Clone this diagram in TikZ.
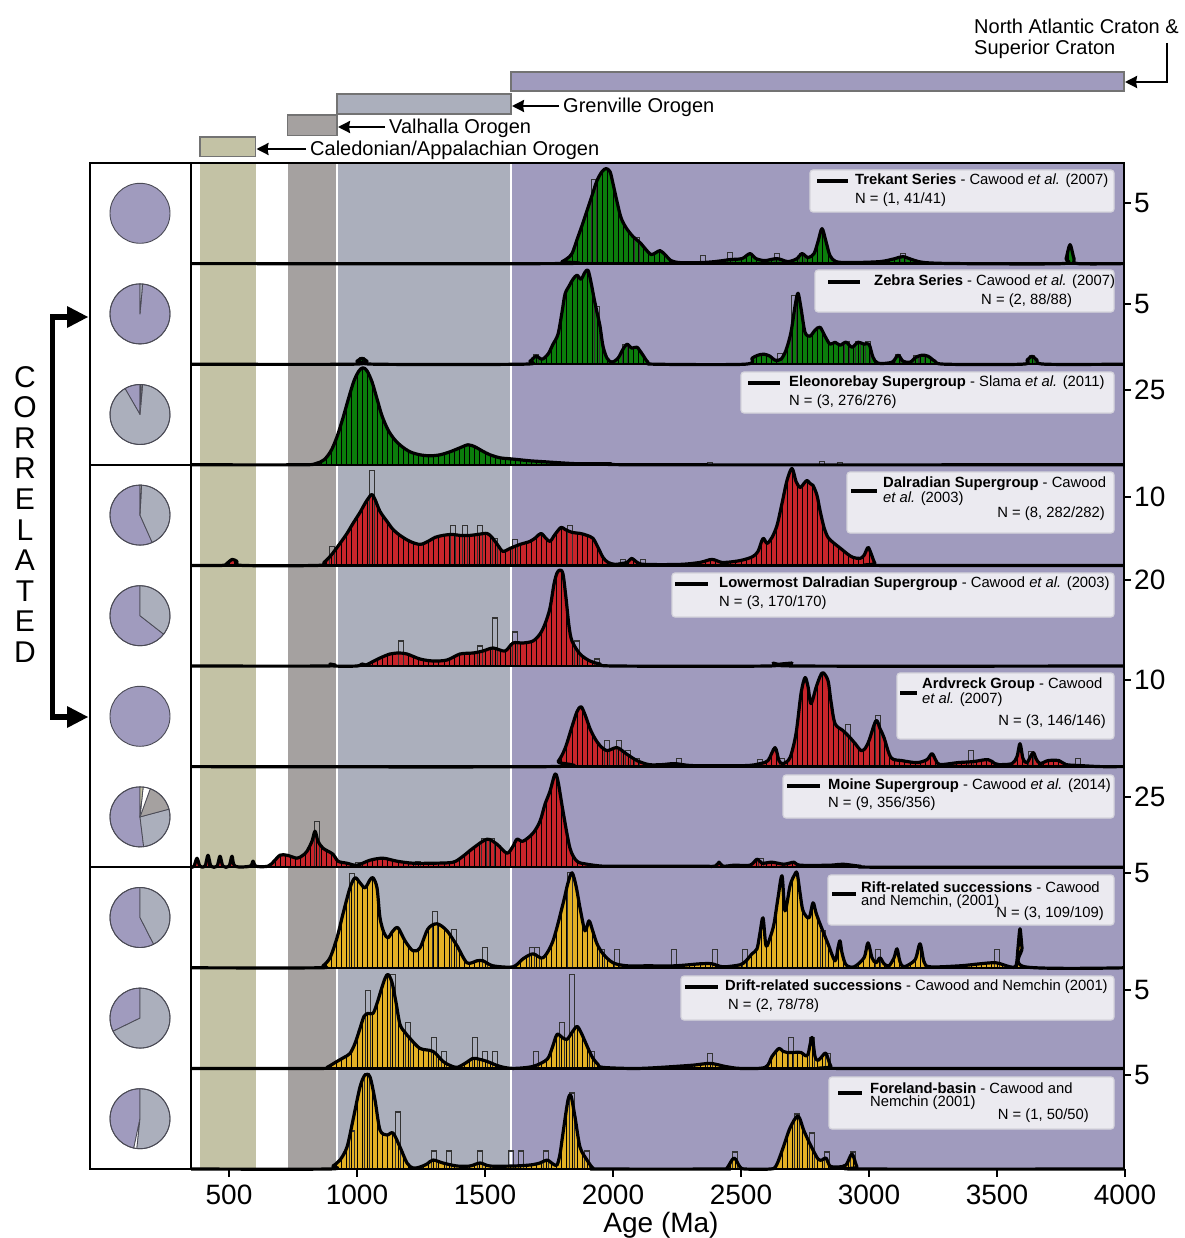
\documentclass[tikz,border=0pt]{standalone}
\usepackage{fontspec}
\setmainfont{Liberation Sans}
\usetikzlibrary{arrows.meta}

\definecolor{lav}{HTML}{A09BBE}
\definecolor{bgr}{HTML}{ABAFBC}
\definecolor{gry}{HTML}{A5A1A0}
\definecolor{kha}{HTML}{C3C2A5}
\definecolor{legf}{HTML}{EBEAF0}
\definecolor{legd}{HTML}{D5D4DC}
\definecolor{kgreen}{HTML}{0B7D0B}
\definecolor{kred}{HTML}{C8252B}
\definecolor{kyel}{HTML}{E3B125}
\definecolor{pied}{HTML}{4A4A55}

\newcommand\setfs[1]{\fontsize{#1}{#1}\selectfont}

\tikzset{
  kdecurve/.style={line width=3.2pt, line join=round, line cap=round},
  barline/.style={line width=0.9pt, draw=black},
  boxline/.style={line width=1.3pt, draw=black!80},
  frameline/.style={line width=2.4pt, line cap=rect},
  legbox/.style={fill=legf, draw=legd, line width=1.2pt, rounded corners=3pt},
  legline/.style={line width=3.4pt},
  legtxt/.style={anchor=west, inner sep=0pt, font=\setfs{14.8}},
  legtxtr/.style={anchor=east, inner sep=0pt, font=\setfs{14.8}},
  axlab/.style={inner sep=0pt, font=\setfs{28}},
  corr/.style={inner sep=0pt, font=\setfs{30}},
  olab/.style={anchor=west, inner sep=0pt, font=\setfs{20}},
  topbar/.style={draw=black!55, line width=1.2pt},
  oarrow/.style={line width=2.2pt, -{Stealth[length=12pt,width=12pt,inset=1pt]}},
  tickmark/.style={line width=1.6pt},
  piewedge/.style={draw=pied, line width=0.8pt, line join=round},
}

\newcommand\kdeplot[4]{%
  \begin{scope}[shift={(0,#1)}, yscale=-1]
    \begin{scope}
      \clip (191,-2) rectangle (1124,100);
      \fill[#2] plot[smooth,tension=0.5] coordinates {#3} -- cycle;
      \begin{scope}
        \clip plot[smooth,tension=0.5] coordinates {#3} -- cycle;
        \foreach \k in {18,...,200} \draw[barline] ({101+5.12*\k},0) -- ++(0,100);
      \end{scope}
      \foreach \bxx/\bhh in {#4} \draw[boxline] ({\bxx-2.56},0) rectangle ({\bxx+2.56},\bhh);
      \draw[kdecurve] plot[smooth,tension=0.5] coordinates {#3};
    \end{scope}
  \end{scope}}

\newcommand\piechart[2]{%
  \begin{scope}[shift={(140,#1)}, yscale=-1]
    \foreach \pa/\pb/\pc in {#2}
      \filldraw[piewedge, fill=\pc] (0,0) -- (\pa:30) arc[start angle=\pa, end angle=\pb, radius=30] -- cycle;
    \draw[pied, line width=0.9pt] (0,0) circle[radius=30];
  \end{scope}}
\newcommand\piefull[1]{%
  \filldraw[fill=lav, draw=pied, line width=0.9pt] (140,#1) circle[radius=30];}

\begin{document}
\begin{tikzpicture}[x=1pt,y=-1pt]
\useasboundingbox (0,0) rectangle (1184,1238);

% ---------- background age bands ----------
\fill[kha] (200,163) rectangle (255.5,1169);
\fill[gry] (287.5,163) rectangle (337,1169);
\fill[bgr] (337,163) rectangle (511,1169);
\fill[lav] (511,163) rectangle (1124,1169);
\draw[white, line width=1.2pt] (337,163) -- (337,1169) (511,163) -- (511,1169);

% ---------- KDE panels ----------
% 1 Trekant
\kdeplot{263.6}{kgreen}{(191,0) (555,0) (562,2) (567,5) (572,10) (577,24) (582,38) (587,53) (592,68) (597,83) (602,92) (606,95) (610,92) (613,80) (617,62) (621,46) (626,36) (633,27) (640,21) (646,14) (651,9) (656,11) (660,13) (665,9) (671,3) (680,1) (700,1) (715,2) (730,4) (742,5) (750,10) (756,5) (765,3) (777,5) (788,2) (797,5) (802,10) (808,6) (814,10) (818,22) (822,35) (826,22) (830,8) (836,2) (850,1) (880,2) (895,5) (903,7) (912,4) (925,1) (960,0) (1062,0) (1066,5) (1070,19) (1074,5) (1078,0) (1124,0)}
{594/84, 637/26, 703/8, 730/11, 777/10, 802/10, 903/10}
% 2 Zebra
\kdeplot{364.2}{kgreen}{(191,0) (352,0) (357,3) (362,6) (367,3) (375,0) (522,0) (530,3) (536,8) (542,5) (548,10) (553,20) (558,30) (562,52) (565,70) (569,78) (573,85) (577,89) (581,85) (585,92) (588,94) (591,82) (594,66) (597,52) (600,38) (603,18) (607,6) (612,2) (618,6) (623,15) (627,20) (632,16) (637,17) (643,9) (648,2) (655,0) (745,0) (752,6) (758,9) (764,10) (770,8) (775,4) (781,5) (786,14) (791,32) (795,58) (798,71) (801,56) (805,32) (810,28) (815,34) (820,37) (825,28) (830,20) (835,22) (840,19) (846,22) (852,17) (858,22) (864,20) (869,20) (873,7) (878,1) (892,2) (898,9) (903,3) (910,2) (916,7) (922,9) (928,8) (935,3) (945,0) (1022,0) (1027,4) (1032,8) (1037,4) (1045,0) (1124,0)}
{362/7, 536/10, 597/58, 625/20, 780/11, 794/69, 847/23, 858/23, 868/23, 898/10, 916/9, 922/9, 1032/9}
% 3 Eleonorebay
\kdeplot{464.8}{kgreen}{(191,0) (300,0) (315,1) (324,5) (331,14) (337,28) (343,47) (349,68) (354,84) (359,94) (363,97) (367,94) (372,83) (377,66) (382,49) (388,35) (394,26) (401,19) (410,13) (420,10) (430,9) (440,10) (450,13) (460,17) (468,20) (475,18) (482,14) (490,10) (500,7) (510,6) (520,5) (530,4) (545,3) (560,2) (580,1) (610,1) (650,0) (1124,0)}
{710/2, 822/3, 840/2}
% 4 Dalradian
\kdeplot{565.4}{kred}{(191,0) (222,0) (227,2) (232,6) (237,4) (242,0) (318,0) (324,3) (331,10) (340,22) (347,32) (353,42) (360,53) (365,62) (369,68) (372,71) (375,66) (380,54) (387,44) (393,36) (400,30) (410,24) (420,21) (428,24) (435,28) (443,30) (452,31) (460,30) (470,30) (478,31) (487,32) (492,28) (498,20) (503,14) (510,17) (520,21) (530,24) (536,28) (541,32) (546,27) (550,24) (555,31) (561,38) (565,36) (572,33) (580,32) (587,30) (593,27) (598,18) (603,8) (608,3) (615,1) (622,2) (627,3) (632,7) (637,3) (645,1) (680,1) (700,3) (712,6) (722,3) (735,4) (745,6) (753,9) (758,14) (763,27) (767,22) (772,28) (777,40) (782,62) (787,85) (792,97) (796,84) (800,78) (804,82) (807,85) (810,82) (813,80) (817,70) (820,55) (824,38) (828,28) (833,23) (838,19) (843,15) (848,11) (853,8) (860,7) (864,10) (868,18) (871,12) (875,2) (880,0) (1124,0)}
{332/19, 372/95, 453/40, 465/40, 480/40, 495/27, 515/26, 570/40, 623/6, 643/6}
% 5 Lowermost Dalradian
\kdeplot{666}{kred}{(191,0) (326,0) (330,2) (334,0) (357,0) (362,2) (366,1) (372,4) (380,8) (390,12) (399,13) (407,12) (420,7) (433,5) (447,6) (460,12) (473,13) (483,15) (493,18) (505,15) (513,23) (523,23) (533,25) (540,32) (545,42) (550,58) (554,82) (557,93) (560,96) (563,92) (566,68) (569,40) (572,25) (580,12) (590,5) (600,2) (615,0) (768,0) (773,3) (778,1) (787,1) (792,3) (797,0) (1124,0)}
{401/25, 480/20, 495/48, 515/34, 577/25, 597/7}
% 6 Ardvreck
\kdeplot{766.6}{kred}{(191,0) (550,0) (558,5) (565,18) (572,40) (577,55) (581,60) (585,52) (590,38) (595,28) (600,21) (607,16) (617,19) (626,13) (637,6) (649,2) (662,2) (675,3) (693,1) (745,1) (760,3) (768,6) (775,19) (779,6) (783,3) (790,9) (796,33) (801,73) (805,89) (808,80) (811,63) (816,79) (820,90) (823,94) (828,86) (831,65) (835,43) (843,36) (850,29) (856,22) (861,16) (865,18) (869,26) (876,46) (880,38) (884,29) (891,9) (902,6) (917,4) (927,7) (932,13) (936,6) (940,2) (958,4) (973,5) (988,7) (995,3) (999,2) (1012,3) (1017,10) (1020,23) (1023,8) (1027,4) (1033,14) (1036,8) (1040,3) (1048,6) (1059,6) (1066,2) (1081,1) (1100,0) (1124,0)}
{607/26, 619/26, 628/16, 637/8, 679/8, 760/7, 782/8, 848/42, 878/51, 971/16, 1031/15, 1078/8}
% 7 Moine
\kdeplot{867.2}{kred}{(191,0) (194,1) (197,9) (200,1) (205,1) (208,12) (211,1) (217,1) (220,11) (223,1) (229,1) (232,11) (235,1) (250,1) (253,6) (256,1) (268,1) (274,6) (280,12) (287,12) (297,9) (303,12) (307,16) (312,26) (315,36) (318,26) (323,19) (333,13) (338,6) (347,4) (357,2) (370,7) (383,9) (397,6) (413,4) (433,4) (453,5) (463,11) (473,19) (487,28) (497,23) (507,14) (513,21) (517,28) (523,26) (533,34) (540,46) (545,63) (550,76) (555,93) (558,86) (563,56) (570,19) (577,6) (587,3) (603,1) (620,1) (700,1) (715,1) (719,5) (723,1) (734,2) (750,2) (757,8) (762,4) (772,5) (784,3) (794,5) (800,2) (830,2) (843,3) (860,1) (880,0) (1124,0)}
{317/46, 358/5, 418/6, 484/29, 492/29, 761/9}
% 8 Rift
\kdeplot{967.8}{kyel}{(191,0) (318,0) (323,2) (330,10) (337,30) (343,54) (350,80) (355,90) (360,85) (365,80) (370,88) (373,90) (377,80) (380,50) (384,35) (388,30) (393,37) (398,40) (405,27) (413,17) (420,20) (428,39) (437,44) (447,37) (457,22) (467,5) (477,7) (483,7) (493,2) (513,1) (523,9) (533,14) (543,10) (553,27) (563,64) (568,85) (572,95) (576,82) (580,60) (585,37) (589,47) (593,36) (597,24) (603,14) (613,5) (627,2) (647,2) (675,2) (700,4) (712,4) (723,1) (740,3) (746,7) (752,14) (757,19) (760,35) (763,50) (766,22) (770,30) (774,44) (778,70) (782,92) (785,57) (790,82) (794,92) (797,95) (800,75) (803,57) (809,50) (813,65) (816,55) (820,44) (828,24) (835,7) (838,20) (840,27) (842,15) (846,3) (854,1) (864,10) (868,25) (872,10) (876,5) (880,10) (884,4) (889,2) (894,10) (897,19) (900,6) (904,1) (915,8) (920,24) (924,6) (930,1) (960,2) (980,4) (996,5) (1010,1) (1016,2) (1018,20) (1020,39) (1022,20) (1025,1) (1124,0)}
{352/94, 435/56, 454/38, 485/20, 532/20, 537/20, 570/95, 602/18, 617/18, 674/18, 715/18, 745/18, 823/37, 878/18, 997/18}
% 9 Drift
\kdeplot{1068.4}{kyel}{(191,0) (322,0) (327,1) (337,7) (344,11) (350,15) (355,25) (360,40) (364,52) (368,55) (373,55) (377,65) (381,78) (385,90) (388,94) (392,86) (396,66) (400,44) (405,36) (410,30) (420,20) (433,17) (443,7) (450,3) (457,1) (465,5) (473,10) (480,9) (487,7) (500,2) (513,0) (533,2) (547,9) (552,20) (557,34) (562,31) (567,29) (572,36) (577,42) (581,36) (585,27) (589,18) (593,10) (598,4) (603,1) (640,0) (690,3) (710,5) (725,2) (740,0) (765,1) (772,12) (779,20) (783,17) (787,16) (794,16) (801,16) (805,13) (808,14) (812,31) (815,12) (818,8) (822,12) (826,15) (831,2) (838,0) (1124,0)}
{368/78, 393/94, 408/46, 434/31, 444/17, 475/31, 485/17, 495/17, 536/17, 562/46, 572/94, 592/17, 710/15, 791/31, 812/31, 828/15}
% 10 Foreland
\kdeplot{1169}{kyel}{(191,0) (328,0) (333,3) (340,9) (347,22) (353,49) (360,82) (365,94) (370,92) (375,69) (380,39) (387,34) (393,36) (400,22) (407,6) (413,1) (420,2) (427,5) (433,9) (443,6) (457,3) (470,3) (480,6) (490,3) (513,3) (530,4) (540,6) (547,9) (553,5) (557,4) (560,15) (563,36) (568,69) (571,73) (575,52) (580,22) (587,9) (593,1) (600,0) (722,0) (727,1) (734,11) (740,2) (745,0) (770,0) (776,3) (783,21) (790,41) (798,53) (804,38) (811,23) (818,10) (822,9) (826,11) (830,3) (838,2) (846,4) (852,15) (857,2) (862,0) (1124,0)}
{352/38, 367/95, 398/57, 434/18, 449/18, 480/18, 511/18, 521/18, 546/18, 572/76, 587/18, 735/17, 797/55, 812/36, 827/17, 853/17}

% ---------- legends ----------
\draw[legbox] (810,170) rectangle (1114,212);
\draw[legline] (817,181) -- (848,181);
\node[legtxt] (l1a) at (855,181) {\textbf{Trekant Series} - Cawood \textit{et al.} (2007)};
\node[legtxt] (l1b) at (855,200) {N = (1, 41/41)};

\draw[legbox] (815,270) rectangle (1114,312);
\draw[legline] (828,282) -- (860,282);
\node[legtxt] (l2a) at (874,282) {\textbf{Zebra Series} - Cawood \textit{et al.} (2007)};
\node[legtxt] (l2b) at (981,301) {N = (2, 88/88)};

\draw[legbox] (741,372) rectangle (1114,413);
\draw[legline] (748,383) -- (780,383);
\node[legtxt] (l3a) at (789,383) {\textbf{Eleonorebay Supergroup} - Slama \textit{et al.} (2011)};
\node[legtxt] (l3b) at (789,402) {N = (3, 276/276)};

\draw[legbox] (847,472) rectangle (1114,533);
\draw[legline] (851,491) -- (877,491);
\node[legtxt] (l4a) at (883,484) {\textbf{Dalradian Supergroup} - Cawood};
\node[legtxt] (l4b) at (883,499) {\textit{et al.} (2003)};
\node[legtxtr] (l4c) at (1105,514) {N = (8, 282/282)};

\draw[legbox] (672,573) rectangle (1114,617);
\draw[legline] (675,584) -- (708,584);
\node[legtxt] (l5a) at (719,584) {\textbf{Lowermost Dalradian Supergroup} - Cawood \textit{et al.} (2003)};
\node[legtxt] (l5b) at (719,603) {N = (3, 170/170)};

\draw[legbox] (897,673) rectangle (1114,739);
\draw[legline] (900,693) -- (917,693);
\node[legtxt] (l6a) at (922,685) {\textbf{Ardvreck Group} - Cawood};
\node[legtxt] (l6b) at (922,700) {\textit{et al.} (2007)};
\node[legtxtr] (l6c) at (1106,722) {N = (3, 146/146)};

\draw[legbox] (783,775) rectangle (1114,818);
\draw[legline] (787,786) -- (820,786);
\node[legtxt] (l7a) at (828,786) {\textbf{Moine Supergroup} - Cawood \textit{et al.} (2014)};
\node[legtxt] (l7b) at (828,804) {N = (9, 356/356)};

\draw[legbox] (828,875) rectangle (1114,925);
\draw[legline] (832,894) -- (856,894);
\node[legtxt] (l8a) at (861,887) {\textbf{Rift-related successions} - Cawood};
\node[legtxt] (l8b) at (861,902) {and Nemchin, (2001)};
\node[legtxtr] (l8c) at (1104,914) {N = (3, 109/109)};

\draw[legbox] (681,976) rectangle (1114,1020);
\draw[legline] (685,987) -- (718,987);
\node[legtxt] (l9a) at (725,987) {\textbf{Drift-related successions} - Cawood and Nemchin (2001)};
\node[legtxt] (l9b) at (728,1006) {N = (2, 78/78)};

\draw[legbox] (829,1077) rectangle (1114,1129);
\draw[legline] (838,1093) -- (862,1093);
\node[legtxt] (l10a) at (870,1088) {\textbf{Foreland-basin} - Cawood and};
\node[legtxt] (l10b) at (870,1103) {Nemchin (2001)};
\node[legtxtr] (l10c) at (1089,1116) {N = (1, 50/50)};

% ---------- frames ----------
\foreach \k in {0,...,10} \draw[frameline] (191,{163+100.6*\k}) -- (1124,{163+100.6*\k});
\draw[frameline] (191,163) -- (191,1169);
\draw[frameline] (1124,163) -- (1124,1169);
\draw[line width=1.8pt] (90,163) rectangle (191,1169);
\draw[line width=1.8pt] (90,464.8) -- (191,464.8) (90,867.2) -- (191,867.2);

% ---------- right axis ----------
\foreach \yy/\lab [count=\i] in {203/5, 304/5, 390/25, 497/10, 580/20, 680/10, 797/25, 873/5, 990/5, 1075/5}{
  \draw[tickmark] (1124,\yy) -- (1131,\yy);
  \node[axlab, anchor=west] (rl\i) at (1134,\yy) {\lab};}

% ---------- bottom axis ----------
\foreach \a in {500,1000,...,4000}{
  \draw[tickmark] ({101+0.256*\a},1169) -- ++(0,8);
  \node[axlab] (bl\a) at ({101+0.256*\a},1195) {\a};}
\node[axlab] (agelab) at (661,1225) {Age (Ma)};

% ---------- pies ----------
\piefull{213.3}
\piechart{313.9}{90/445/lav, 445/450/bgr}
\piechart{414.5}{90/120/lav, 120/445/bgr, 445/448/gry, 448/450/white}
\piechart{515.1}{90/294/lav, 294/447/bgr, 447/450/gry}
\piechart{615.7}{90/322/lav, 322/450/bgr}
\piefull{716.3}
\piechart{816.9}{90/277/lav, 277/375/bgr, 375/430/gry, 430/444/white, 444/450/kha}
\piechart{917.5}{90/297/lav, 297/450/bgr}
\piechart{1018.1}{90/206/lav, 206/450/bgr}
\piechart{1118.7}{90/258/lav, 258/264/white, 264/450/bgr}

% ---------- CORRELATED bracket ----------
\foreach \ch [count=\i from 0] in {C,O,R,R,E,L,A,T,E,D}
  \node[corr] (c\i) at (25,{377+30.55*\i}) {\ch};
\coordinate (brt) at (88,317);
\coordinate (brb) at (88,717);
\draw[line width=5.5pt] (68,317) -- (52.5,317) -- (52.5,717) -- (68,717);
\fill (brt) -- (67,306) -- (67,328) -- cycle;
\fill (brb) -- (67,706) -- (67,728) -- cycle;

% ---------- orogen bars ----------
\draw[topbar, fill=kha] (200,137) rectangle (255.5,156.5);
\draw[topbar, fill=gry] (287.5,115) rectangle (337,135.5);
\draw[topbar, fill=bgr] (337,94) rectangle (511,114);
\draw[topbar, fill=lav] (511,72) rectangle (1124,91);
\coordinate (calR) at (256.5,149);
\coordinate (valR) at (338,127);
\coordinate (greR) at (512,106);
\coordinate (nacR) at (1125,82);
\node[olab] (cal) at (310,150) {Caledonian/Appalachian Orogen};
\node[olab] (val) at (389,128) {Valhalla Orogen};
\node[olab] (gre) at (563,107) {Grenville Orogen};
\node[anchor=north west, inner sep=0pt, align=left, font=\fontsize{20}{21}\selectfont] (nac) at (974,19) {North Atlantic Craton \&\\Superior Craton};
\draw[oarrow] ([xshift=-4pt,yshift=1pt]cal.west) -- (calR);
\draw[oarrow] ([xshift=-4pt,yshift=1pt]val.west) -- (valR);
\draw[oarrow] ([xshift=-4pt,yshift=1pt]gre.west) -- (greR);
\coordinate (nacS) at (1167,43);
\draw[oarrow] (nacS) -- (1167,82) -- (nacR);
\end{tikzpicture}
\end{document}
